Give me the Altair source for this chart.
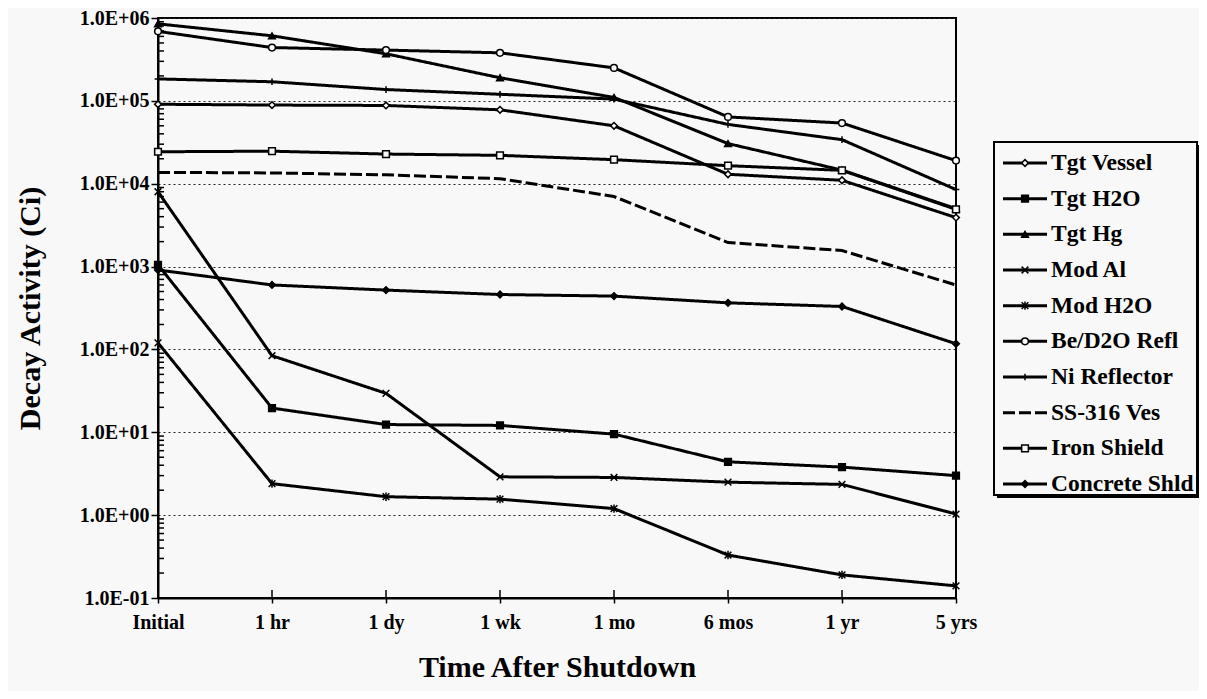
import altair as alt
import pandas as pd

# ---------------- data ----------------
times = ["Initial", "1 hr", "1 dy", "1 wk", "1 mo", "6 mos", "1 yr", "5 yrs"]

series_names = ["Tgt Vessel", "Tgt H2O", "Tgt Hg", "Mod Al", "Mod H2O",
                "Be/D2O Refl", "Ni Reflector", "SS-316 Ves", "Iron Shield",
                "Concrete Shld"]

tgt_vessel = [9.1e4, 8.9e4, 8.8e4, 7.8e4, 5.0e4, 1.3e4, 1.1e4, 3.9e3]
tgt_h2o = [1.05e3, 19.6, 12.4, 12.1, 9.5, 4.4, 3.8, 3.0]
tgt_hg = [8.5e5, 6.1e5, 3.7e5, 1.9e5, 1.1e5, 3.05e4, 1.46e4, 5.0e3]
mod_al = [8.0e3, 84, 29.5, 2.9, 2.85, 2.5, 2.35, 1.03]
mod_h2o = [1.2e2, 2.4, 1.67, 1.56, 1.2, 0.33, 0.19, 0.14]
be_d2o_refl = [6.9e5, 4.4e5, 4.1e5, 3.8e5, 2.5e5, 6.4e4, 5.4e4, 1.9e4]
ni_reflector = [1.84e5, 1.7e5, 1.37e5, 1.2e5, 1.05e5, 5.2e4, 3.4e4, 8.5e3]
ss316_ves = [1.37e4, 1.35e4, 1.28e4, 1.15e4, 7.0e3, 1.95e3, 1.56e3, 6.0e2]
iron_shield = [2.43e4, 2.47e4, 2.28e4, 2.2e4, 1.95e4, 1.65e4, 1.45e4, 4.9e3]
concrete_shld = [9.1e2, 6.0e2, 5.2e2, 4.6e2, 4.4e2, 3.65e2, 3.3e2, 1.17e2]

series_values = [tgt_vessel, tgt_h2o, tgt_hg, mod_al, mod_h2o, be_d2o_refl,
                 ni_reflector, ss316_ves, iron_shield, concrete_shld]

ytick_vals = [0.1, 1, 10, 100, 1e3, 1e4, 1e5, 1e6]
ytick_labels = ["1.0E-01", "1.0E+00", "1.0E+01", "1.0E+02", "1.0E+03",
                "1.0E+04", "1.0E+05", "1.0E+06"]
minor_vals = [m * 10.0 ** k for k in range(-1, 6) for m in range(2, 10)]

# ---------------- styling ----------------
BG = "#f8f8f8"
FONT = "Liberation Serif"
W, H = 798, 580

X_PATH = "M-1,-1L1,1M-1,1L1,-1"
STAR_PATH = "M-1,-1L1,1M-1,1L1,-1M0,-1.25L0,1.25"
PLUS_PATH = "M-1,0L1,0M0,-1L0,1"

shape_range = ["diamond", "square", "triangle-up", X_PATH, STAR_PATH,
               "circle", PLUS_PATH, "circle", "square", "diamond"]
fill_range = [BG, "black", "black", "transparent", "transparent",
              BG, "transparent", "transparent", BG, "black"]
size_range = [45, 45, 55, 60, 60, 22, 80, 10, 55, 55]
dash_range = [[1, 0]] * 7 + [[12, 4]] + [[1, 0]] * 2

rows = []
for name, vals in zip(series_names, series_values):
    for i, (t, v) in enumerate(zip(times, vals)):
        rows.append({"series": name, "time": t, "ti": i, "value": v})
df = pd.DataFrame(rows)

xscale = alt.Scale(type="point", domain=times, padding=0)
yscale = alt.Scale(type="log", domain=[0.1, 1e6], nice=False)

label_expr = ("[" + ",".join(f"'{s}'" for s in ytick_labels) +
              "][round(log(datum.value)/LN10)+1]")

x_axis = alt.Axis(title="Time After Shutdown", labelAngle=0, grid=False,
                  tickSize=5, tickWidth=1.5, tickColor="black",
                  domainColor="black", domainWidth=2,
                  labelFont=FONT, labelFontSize=20, labelFontWeight="bold",
                  labelColor="black", labelPadding=9,
                  titleFont=FONT, titleFontSize=30, titleFontWeight="bold",
                  titleColor="black", titlePadding=20)
y_axis = alt.Axis(title="Decay Activity (Ci)", values=ytick_vals,
                  labelExpr=label_expr, tickSize=7, tickWidth=1.5,
                  tickColor="black", domainColor="black", domainWidth=2,
                  grid=True, gridDash=[2, 3], gridColor="#222", gridWidth=1,
                  labelFont=FONT, labelFontSize=20, labelFontWeight="bold",
                  labelColor="black", labelPadding=2,
                  titleFont=FONT, titleFontSize=30, titleFontWeight="bold",
                  titleColor="black", titlePadding=34)

X_ENC = alt.X("time:N", scale=xscale, sort=times, axis=x_axis)
Y_ENC = alt.Y("value:Q", scale=yscale, axis=y_axis)

dash_enc = alt.StrokeDash("series:N",
                          scale=alt.Scale(domain=series_names, range=dash_range),
                          legend=None)
shape_enc = alt.Shape("series:N",
                      scale=alt.Scale(domain=series_names, range=shape_range),
                      legend=None)
fill_enc = alt.Fill("series:N",
                    scale=alt.Scale(domain=series_names, range=fill_range),
                    legend=None)
size_enc = alt.Size("series:N",
                    scale=alt.Scale(domain=series_names, range=size_range),
                    legend=None)

base = alt.Chart(df)

lines = base.mark_line(color="black", strokeWidth=3).encode(
    x=X_ENC, y=Y_ENC,
    detail="series:N",
    order=alt.Order("ti:Q"),
    strokeDash=dash_enc,
)

points = base.transform_filter(alt.datum.series != "SS-316 Ves").mark_point(
    filled=True, stroke="black", strokeWidth=1.5, opacity=1
).encode(x=X_ENC, y=Y_ENC, shape=shape_enc, fill=fill_enc, size=size_enc)

minor_ticks = alt.Chart(pd.DataFrame({"value": minor_vals})).mark_rule(
    color="black", strokeWidth=1.5
).encode(y=Y_ENC, x=alt.value(0), x2=alt.value(6))

x_inner_ticks = alt.Chart(pd.DataFrame({"time": times})).mark_rule(
    color="black", strokeWidth=1.5
).encode(x=X_ENC, y=alt.value(H - 8), y2=alt.value(H))

main = alt.layer(lines, minor_ticks, x_inner_ticks, points)

# ---------------- legend ----------------
leg_df = pd.DataFrame({"series": series_names})
leg_y = alt.Y("series:N", sort=series_names,
              scale=alt.Scale(type="point", domain=series_names,
                              range=[145, 466], padding=0),
              axis=None)
one = pd.DataFrame({"a": [0]})

leg_shadow = alt.Chart(one).mark_rect(fill="black").encode(
    x=alt.value(839), x2=alt.value(1042), y=alt.value(127), y2=alt.value(480))
leg_box = alt.Chart(one).mark_rect(fill=BG, stroke="black", strokeWidth=2).encode(
    x=alt.value(836), x2=alt.value(1039), y=alt.value(124), y2=alt.value(477))
leg_lines = alt.Chart(leg_df).mark_rule(color="black", strokeWidth=3).encode(
    x=alt.value(845), x2=alt.value(889), y=leg_y, strokeDash=dash_enc)
leg_points = alt.Chart(leg_df).transform_filter(
    alt.datum.series != "SS-316 Ves").mark_point(
    filled=True, stroke="black", strokeWidth=1.5, opacity=1
).encode(x=alt.value(867), y=leg_y, shape=shape_enc, fill=fill_enc, size=size_enc)
leg_text = alt.Chart(leg_df).mark_text(
    align="left", baseline="middle", font=FONT, fontSize=23.5,
    fontWeight="bold", color="black"
).encode(x=alt.value(893), y=leg_y, text="series:N")

legend = alt.layer(leg_shadow, leg_box, leg_lines, leg_points, leg_text)

chart = alt.layer(main, legend).resolve_scale(y="independent").properties(
    width=W, height=H,
    autosize=alt.AutoSizeParams(type="none"),
    padding={"left": 150, "top": 10, "right": 243, "bottom": 93},
    background=BG,
).configure_view(stroke="black", strokeWidth=2)

chart.save("out.html", embed_options={"renderer": "svg", "actions": False})
